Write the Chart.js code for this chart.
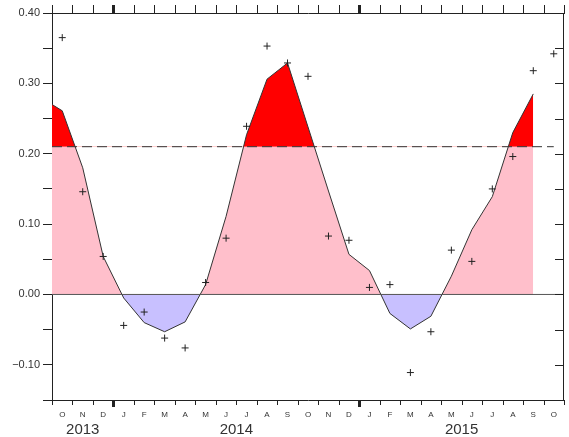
<!DOCTYPE html>
<html>
<head>
<meta charset="utf-8">
<script src="https://cdn.jsdelivr.net/npm/chart.js@4/dist/chart.umd.min.js"></script>
<style>
  body { margin: 0; background: #fff; }
  canvas { display: block; }
</style>
</head>
<body>
<canvas id="chart" width="569" height="437"></canvas>
<script>
// month letters under the x axis, Oct 2013 .. Oct 2015
const monthLabels = ['O','N','D','J','F','M','A','M','J','J','A','S','O','N','D','J','F','M','A','M','J','J','A','S','O'];
const yearLabels = ['2013', '2014', '2015'];
// smoothed curve, Sep 2013 .. Sep 2015 (first point falls left of the axis)
const curveValues = [0.279, 0.261, 0.180, 0.054, -0.005, -0.040, -0.053, -0.039, 0.014, 0.111, 0.227, 0.306, 0.329,
                     0.238, 0.147, 0.057, 0.034, -0.027, -0.049, -0.031, 0.026, 0.092, 0.139, 0.230, 0.285];
// monthly values (crosses), Oct 2013 .. Oct 2015
const monthlyValues = [0.365, 0.146, 0.054, -0.044, -0.025, -0.062, -0.076, 0.017, 0.080, 0.239, 0.353, 0.329, 0.310,
                       0.083, 0.077, 0.010, 0.014, -0.111, -0.053, 0.063, 0.047, 0.150, 0.196, 0.318, 0.342];
const threshold = 0.21;
const yTicks = [-0.15, -0.10, -0.05, 0, 0.05, 0.10, 0.15, 0.20, 0.25, 0.30, 0.35, 0.40];
const yTickLabels = ['', '\u22120.10', '', '0.00', '', '0.10', '', '0.20', '', '0.30', '', '0.40'];

// month boundaries are integers, month centres at i + 0.5
const nMonths = monthLabels.length;
const boundaries = Array.from({ length: nMonths + 1 }, (_, i) => i);
const centres = monthLabels.map((_, i) => i + 0.5);
const yearStarts = monthLabels.map((m, i) => (i > 0 && monthLabels[i - 1] === 'D') ? i : -1).filter(i => i >= 0);
const yearEdges = [0, ...yearStarts, nMonths];
const yearCentres = yearLabels.map((_, i) => (yearEdges[i] + yearEdges[i + 1]) / 2);

const curvePts = curveValues.map((v, i) => ({ x: i - 0.5, y: v }));
const crossPts = monthlyValues.map((v, i) => ({ x: i + 0.5, y: v }));
const dashPts = [{ x: 0, y: threshold }, { x: nMonths - 0.5, y: threshold }];
const zeroPts = [{ x: 0, y: 0 }, { x: nMonths, y: 0 }];

const axisColor = '#222';
const textColor = '#333';

// right frame line plus tick marks on top, bottom and right side
const frame = {
  id: 'frame',
  afterDraw(chart) {
    const c = chart.ctx, a = chart.chartArea, x = chart.scales.x, y = chart.scales.y;
    const right = Math.round(a.right), top = Math.round(a.top), bottom = Math.round(a.bottom);
    c.save();
    c.fillStyle = axisColor;
    c.fillRect(right - 1, top, 1, bottom - top + 1);
    yTicks.forEach(v => {
      const py = Math.round(y.getPixelForValue(v));
      c.fillRect(right - 9, py, 8, 1);
    });
    boundaries.forEach(v => {
      const year = yearStarts.includes(v);
      const px = Math.round(x.getPixelForValue(v));
      const w = year ? 3 : 1;
      c.fillRect(px - (year ? 1 : 0), top - 8, w, 8);
      c.fillRect(px - (year ? 1 : 0), bottom, w, year ? 7 : 5);
    });
    c.restore();
  }
};

new Chart(document.getElementById('chart'), {
  type: 'line',
  data: {
    datasets: [
      {
        data: crossPts, showLine: false, pointStyle: 'cross', pointRadius: 3.5,
        pointBorderColor: '#222', pointBorderWidth: 1, order: 0
      },
      {
        data: dashPts, borderColor: '#333', borderWidth: 1, borderDash: [10, 5],
        pointRadius: 0, fill: false, order: 1
      },
      {
        data: zeroPts, borderColor: '#555', borderWidth: 1, pointRadius: 0, fill: false, order: 1
      },
      {
        data: curvePts, borderColor: '#333', borderWidth: 1, pointRadius: 0,
        fill: { target: { value: threshold }, above: '#ff0000', below: 'rgba(0,0,0,0)' }, order: 2
      },
      {
        data: curvePts, borderWidth: 0, borderColor: 'rgba(0,0,0,0)', pointRadius: 0,
        fill: { target: 'origin', above: '#ffbfcb', below: '#c8c0ff' }, order: 3
      }
    ]
  },
  options: {
    responsive: false,
    animation: false,
    devicePixelRatio: 1,
    layout: { padding: { left: 0, right: 1, top: 0, bottom: 0 } },
    plugins: { legend: { display: false }, tooltip: { enabled: false } },
    scales: {
      x: {
        type: 'linear', position: 'bottom', min: 0, max: nMonths,
        afterBuildTicks: s => { s.ticks = boundaries.map(v => ({ value: v })); },
        afterFit: s => { s.height = 6; },
        ticks: { display: false },
        grid: { display: false, drawTicks: false },
        border: { color: axisColor, width: 1 }
      },
      xm: {
        type: 'linear', position: 'bottom', min: 0, max: nMonths,
        afterBuildTicks: s => { s.ticks = centres.map(v => ({ value: v })); },
        afterFit: s => { s.height = 14; },
        ticks: {
          autoSkip: false, maxRotation: 0, padding: 4, color: textColor,
          font: { family: 'Liberation Sans', size: 8 },
          callback: (v, i) => monthLabels[i]
        },
        grid: { display: false, drawTicks: false },
        border: { display: false }
      },
      xy: {
        type: 'linear', position: 'bottom', min: 0, max: nMonths,
        afterBuildTicks: s => { s.ticks = yearCentres.map(v => ({ value: v })); },
        afterFit: s => { s.height = 17; },
        ticks: {
          autoSkip: false, maxRotation: 0, padding: 2, color: textColor,
          font: { family: 'Liberation Sans', size: 15, lineHeight: 1 },
          callback: (v, i) => yearLabels[i]
        },
        grid: { display: false, drawTicks: false },
        border: { display: false }
      },
      xt: {
        type: 'linear', position: 'top', min: 0, max: nMonths,
        afterBuildTicks: s => { s.ticks = boundaries.map(v => ({ value: v })); },
        afterFit: s => { s.height = 13; },
        ticks: { display: false },
        grid: { display: false, drawTicks: false },
        border: { color: axisColor, width: 1 }
      },
      y: {
        type: 'linear', position: 'left', min: -0.15, max: 0.40,
        afterBuildTicks: s => { s.ticks = yTicks.map(v => ({ value: v })); },
        afterFit: s => { s.width = 52; },
        ticks: {
          autoSkip: false, padding: 3, color: textColor,
          font: { family: 'Liberation Sans', size: 11 },
          callback: (v, i) => yTickLabels[i]
        },
        grid: { drawOnChartArea: false, tickLength: 9, color: axisColor },
        border: { color: axisColor, width: 1 }
      }
    }
  },
  plugins: [frame]
});
</script>
</body>
</html>
